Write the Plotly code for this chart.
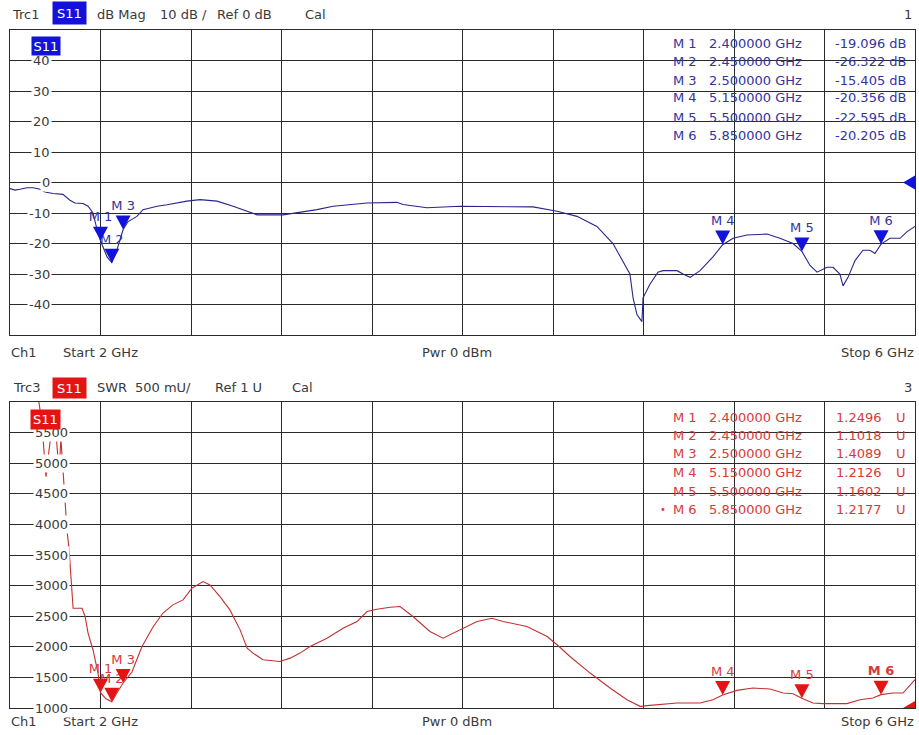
import plotly.graph_objects as go

# ---------------- data ----------------
START_GHZ = 2.0
STOP_GHZ = 6.0
POWER_DBM = 0

FREQ_DB = [2.000, 2.022, 2.044, 2.075, 2.102, 2.133, 2.155, 2.190, 2.234, 2.265, 2.287, 2.323,
           2.345, 2.367, 2.380, 2.400, 2.429, 2.450, 2.473, 2.500, 2.522, 2.561, 2.588, 2.650,
           2.694, 2.782, 2.840, 2.915, 2.986, 3.061, 3.092, 3.207, 3.282, 3.357, 3.428, 3.503,
           3.578, 3.710, 3.737, 3.843, 3.989, 4.312, 4.418, 4.506, 4.594, 4.665, 4.709, 4.740,
           4.754, 4.771, 4.793, 4.798, 4.829, 4.864, 4.886, 4.948, 4.975, 5.006, 5.050, 5.107,
           5.150, 5.196, 5.257, 5.346, 5.403, 5.461, 5.500, 5.536, 5.567, 5.611, 5.638, 5.668,
           5.682, 5.704, 5.735, 5.770, 5.801, 5.823, 5.850, 5.889, 5.934, 5.965, 6.000]
S11_DB = [-2.0, -2.5, -2.2, -1.7, -1.7, -2.2, -3.1, -3.6, -3.9, -5.8, -6.7, -6.9,
          -7.8, -10.0, -14.0, -19.1, -24.4, -26.3, -22.0, -15.4, -12.8, -11.1, -8.9, -7.8,
          -7.3, -6.1, -5.6, -6.1, -7.8, -9.8, -10.6, -10.6, -9.8, -8.9, -7.8, -7.2,
          -6.7, -6.5, -7.2, -8.3, -7.8, -8.0, -9.4, -11.1, -14.4, -20.0, -25.6, -30.0,
          -37.8, -43.3, -45.6, -37.8, -33.3, -29.4, -28.9, -28.9, -30.0, -31.1, -28.9, -24.4,
          -20.4, -18.3, -17.2, -16.9, -18.3, -20.0, -22.6, -27.2, -29.4, -27.8, -27.8, -30.0,
          -33.9, -31.1, -25.6, -22.2, -22.2, -23.3, -20.2, -18.3, -18.3, -16.1, -14.4]

FREQ_SWR = [2.000, 2.124, 2.141, 2.150, 2.159, 2.172, 2.186, 2.203, 2.217, 2.225, 2.234, 2.243,
            2.252, 2.261, 2.270, 2.274, 2.279, 2.318, 2.332, 2.345, 2.367, 2.389, 2.400, 2.424,
            2.450, 2.473, 2.500, 2.539, 2.583, 2.632, 2.676, 2.720, 2.765, 2.804, 2.827, 2.853,
            2.884, 2.928, 2.972, 3.017, 3.048, 3.074, 3.118, 3.193, 3.238, 3.282, 3.326, 3.401,
            3.472, 3.534, 3.578, 3.622, 3.680, 3.724, 3.781, 3.856, 3.914, 3.989, 4.064, 4.130,
            4.179, 4.285, 4.374, 4.418, 4.475, 4.564, 4.652, 4.727, 4.785, 4.816, 4.948, 5.050,
            5.107, 5.150, 5.213, 5.284, 5.359, 5.417, 5.461, 5.500, 5.549, 5.593, 5.699, 5.757,
            5.814, 5.850, 5.903, 5.947, 6.000]
S11_SWR_MU = [6300, 6100, 5650, 5200, 4780, 5200, 5600, 5500, 4850, 5400, 4900, 4300,
              3900, 3600, 3100, 2750, 2630, 2630, 2495, 2225, 1948, 1570, 1250, 1150,
              1102, 1250, 1409, 1588, 2000, 2323, 2552, 2685, 2766, 2957, 3011, 3065,
              3011, 2821, 2603, 2277, 1978, 1897, 1788, 1761, 1815, 1897, 2005, 2141,
              2304, 2413, 2576, 2614, 2647, 2658, 2495, 2250, 2141, 2280, 2413, 2467,
              2413, 2332, 2168, 2033, 1842, 1571, 1326, 1136, 1027, 1038, 1082, 1082,
              1136, 1213, 1288, 1326, 1310, 1245, 1234, 1160, 1082, 1071, 1071, 1136,
              1163, 1218, 1245, 1245, 1462]

MARKER_NAMES = ["M 1", "M 2", "M 3", "M 4", "M 5", "M 6"]
MARKER_FREQ = [2.40, 2.45, 2.50, 5.15, 5.50, 5.85]
MARKER_DB = [-19.096, -26.322, -15.405, -20.356, -22.595, -20.205]
MARKER_SWR_U = [1.2496, 1.1018, 1.4089, 1.2126, 1.1602, 1.2177]
ACTIVE_MARKER_SWR = 5

DB_TICKS = [40, 30, 20, 10, 0, -10, -20, -30, -40]
SWR_TICKS = [5500, 5000, 4500, 4000, 3500, 3000, 2500, 2000, 1500, 1000]
REF_DB = 0
REF_SWR_MU = 1000

# ---------------- styling ----------------
W, H = 919, 735
FONT = "DejaVu Sans"
FS = 13
TXT = "#3a3a3a"
GRID = "#2a2a2a"
BLUE_TR = "#26268c"
BLUE_MK = "#1212dc"
BLUE_TX = "#34349c"
RED_TR = "#c43030"
RED_MK = "#e41414"
RED_TX = "#d83a3a"

X0, X1 = 10, 915
TOP_Y0, TOP_Y1 = 30, 335
BOT_Y0, BOT_Y1 = 402, 708


def px(x):
    return x / W


def py(y):
    return 1 - y / H


def note(x, y, s, anchor="left", color=TXT, size=FS, **kw):
    d = dict(xref="paper", yref="paper", x=px(x), y=py(y), xanchor=anchor, yanchor="middle",
             text=s, showarrow=False, font=dict(family=FONT, size=size, color=color))
    d.update(kw)
    return d


fig = go.Figure()

# traces
fig.add_trace(go.Scatter(x=FREQ_DB, y=S11_DB, mode="lines", line=dict(color=BLUE_TR, width=1.1),
                         xaxis="x", yaxis="y", hoverinfo="skip"))
fig.add_trace(go.Scatter(x=FREQ_SWR, y=S11_SWR_MU, mode="lines", line=dict(color=RED_TR, width=1.1),
                         xaxis="x2", yaxis="y2", hoverinfo="skip"))

marker_swr_mu = [u * 1000 for u in MARKER_SWR_U]
swr_labels = [("<b>%s</b>" % n) if i == ACTIVE_MARKER_SWR else n for i, n in enumerate(MARKER_NAMES)]

# marker labels (as text traces, so the triangles can overlap them)
fig.add_trace(go.Scatter(x=MARKER_FREQ, y=MARKER_DB, mode="markers+text", text=MARKER_NAMES,
                         textposition="top center", marker=dict(size=24, opacity=0),
                         textfont=dict(family=FONT, size=FS, color=BLUE_TX),
                         xaxis="x", yaxis="y", hoverinfo="skip", cliponaxis=False))
fig.add_trace(go.Scatter(x=MARKER_FREQ, y=marker_swr_mu, mode="markers+text", text=swr_labels,
                         textposition="top center", marker=dict(size=24, opacity=0),
                         textfont=dict(family=FONT, size=FS, color=RED_TX),
                         xaxis="x2", yaxis="y2", hoverinfo="skip", cliponaxis=False))

shapes = []
tri_down = "M-7.5,14L7.5,14L0,0Z"
tri_left = "M-12,0L0,7L0,-7Z"
for f, v in zip(MARKER_FREQ, MARKER_DB):
    shapes.append(dict(type="path", xref="x", yref="y", xsizemode="pixel", ysizemode="pixel",
                       xanchor=f, yanchor=v, path=tri_down, fillcolor=BLUE_MK,
                       line=dict(width=0), layer="above"))
for f, v in zip(MARKER_FREQ, marker_swr_mu):
    shapes.append(dict(type="path", xref="x2", yref="y2", xsizemode="pixel", ysizemode="pixel",
                       xanchor=f, yanchor=v, path=tri_down, fillcolor=RED_MK,
                       line=dict(width=0), layer="above"))
shapes.append(dict(type="path", xref="x", yref="y", xsizemode="pixel", ysizemode="pixel",
                   xanchor=STOP_GHZ, yanchor=REF_DB, path=tri_left, fillcolor=BLUE_MK,
                   line=dict(width=0), layer="above"))
shapes.append(dict(type="path", xref="x2", yref="y2", xsizemode="pixel", ysizemode="pixel",
                   xanchor=STOP_GHZ, yanchor=REF_SWR_MU, path=tri_left, fillcolor=RED_MK,
                   line=dict(width=0), layer="above"))

ann = []
# headers
ann += [
    note(10, 14, "Trc1"),
    note(52, 13.5, "S11", color="white", bgcolor=BLUE_MK, width=33, height=22, borderpad=0),
    note(95, 14, "dB Mag"),
    note(158, 14, "10 dB /"),
    note(215, 14, "Ref 0 dB"),
    note(303, 14, "Cal"),
    note(914, 14, "1", anchor="right"),
]
ann += [
    note(11, 387, "Trc3"),
    note(52, 387.5, "S11", color="white", bgcolor=RED_MK, width=33, height=20, borderpad=0),
    note(95, 387, "SWR"),
    note(133, 387, "500 mU/"),
    note(213, 387, "Ref 1 U"),
    note(290, 387, "Cal"),
    note(914, 387, "3", anchor="right"),
]
# footers
for yf in (352, 721):
    ann += [
        note(9, yf, "Ch1"),
        note(61, yf, "Start %g GHz" % START_GHZ),
        note(420, yf, "Pwr %g dBm" % POWER_DBM),
        note(916, yf, "Stop %g GHz" % STOP_GHZ, anchor="right"),
    ]

# y tick labels inside the diagrams
for t in DB_TICKS:
    ann.append(dict(xref="paper", yref="y", x=px(52), y=t, xanchor="right", yanchor="middle",
                    text=str(t), showarrow=False, bgcolor="white", borderpad=1,
                    font=dict(family=FONT, size=FS, color=TXT)))
for t in SWR_TICKS:
    ann.append(dict(xref="paper", yref="y2", x=px(70), y=t, xanchor="right", yanchor="middle",
                    text=str(t), showarrow=False, bgcolor="white", borderpad=1,
                    font=dict(family=FONT, size=FS, color=TXT)))
# inner S11 boxes (drawn over the top tick labels)
ann.append(note(31, 46.5, "S11", color="white", bgcolor=BLUE_MK, width=28, height=18, borderpad=0))
ann.append(note(30, 419.5, "S11", color="white", bgcolor=RED_MK, width=29, height=19, borderpad=0))

# marker tables
top_rows = [43, 61.5, 80, 98, 117, 135]
bot_rows = [417, 435, 453.5, 472.5, 491, 509.5]
for i, n in enumerate(MARKER_NAMES):
    ann.append(note(671, top_rows[i], n, color=BLUE_TX))
    ann.append(note(707, top_rows[i], "%.6f GHz" % MARKER_FREQ[i], color=BLUE_TX))
    ann.append(note(908, top_rows[i], "%.3f dB" % MARKER_DB[i], anchor="right", color=BLUE_TX))
    ann.append(note(671, bot_rows[i], n, color=RED_TX))
    ann.append(note(707, bot_rows[i], "%.6f GHz" % MARKER_FREQ[i], color=RED_TX))
    ann.append(note(884, bot_rows[i], "%.4f" % MARKER_SWR_U[i], anchor="right", color=RED_TX))
    ann.append(note(908, bot_rows[i], "U", anchor="right", color=RED_TX))
ann.append(note(658, bot_rows[ACTIVE_MARKER_SWR], "•", color=RED_TX, size=10))

axis_common = dict(showgrid=True, gridcolor=GRID, gridwidth=1, zeroline=False,
                   showticklabels=False, ticks="", showline=True, mirror=True,
                   linecolor=GRID, linewidth=1)

fig.update_layout(
    width=W, height=H, margin=dict(l=0, r=0, t=0, b=0),
    paper_bgcolor="white", plot_bgcolor="white", showlegend=False,
    xaxis=dict(domain=[px(X0), px(X1)], range=[START_GHZ, STOP_GHZ], tick0=START_GHZ, dtick=0.4,
               anchor="y", **axis_common),
    yaxis=dict(domain=[py(TOP_Y1), py(TOP_Y0)], range=[-50, 50], tick0=0, dtick=10,
               anchor="x", **axis_common),
    xaxis2=dict(domain=[px(X0), px(X1)], range=[START_GHZ, STOP_GHZ], tick0=START_GHZ, dtick=0.4,
                anchor="y2", **axis_common),
    yaxis2=dict(domain=[py(BOT_Y1), py(BOT_Y0)], range=[1000, 6000], tick0=1000, dtick=500,
                anchor="x2", **axis_common),
    shapes=shapes,
    annotations=ann,
)

fig.write_html("out.html", config={"displayModeBar": False},
               post_script="document.body.style.margin='0';document.body.style.overflow='hidden';")
